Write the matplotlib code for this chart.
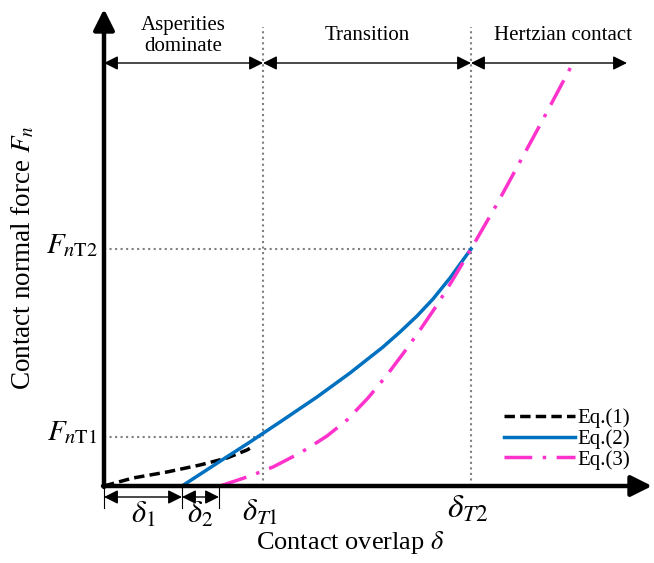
import numpy as np
import matplotlib.pyplot as plt

plt.rcParams['font.family'] = 'Liberation Serif'
plt.rcParams['mathtext.fontset'] = 'stix'

# characteristic overlaps / forces (schematic units)
d1 = 78
d2 = 115
dT1 = 159
dT2 = 367
F_T1 = 49
F_T2 = 237

# Eq.(1) asperity model
eq1_x = [0, 29, 63, 96, 123, 143, 150]
eq1_y = [0, 8, 14, 21, 28, 36, 40]
# Eq.(2) transition
eq2_x = [78, 118, 146, 179, 213, 246, 279, 296, 313, 329, 346, 359, 367]
eq2_y = [0, 26, 44, 66, 89, 113, 139, 154, 170, 187, 208, 226, 237]
# Eq.(3) hertz
eq3_x = [116, 146, 169, 196, 209, 223, 243, 264, 283, 301, 316, 333, 348, 367, 393, 436, 469]
eq3_y = [0, 10, 19, 33, 41, 50, 66, 88, 111, 135, 156, 181, 205, 237, 282, 361, 423]

regions = ['Asperities\ndominate', 'Transition', 'Hertzian contact']
region_edges = [0, dT1, dT2, 523]

fig = plt.figure(figsize=(6.54, 5.63), dpi=100)
ax = fig.add_axes([0, 0, 1, 1])
ax.set_xlim(-104, 550)
ax.set_ylim(-77, 486)
ax.axis('off')

# dotted guide lines
gcol = '#7f7f7f'
for xv in [dT1, dT2]:
    ax.plot([xv, xv], [0, 459], ls=':', color=gcol, lw=1.5)
ax.plot([0, dT1], [F_T1, F_T1], ls=':', color=gcol, lw=1.5)
ax.plot([0, dT2], [F_T2, F_T2], ls=':', color=gcol, lw=1.5)

# curves
ax.plot(eq1_x, eq1_y, color='black', lw=2.5, dashes=(3, 1.5), label='Eq.(1)')
ax.plot(eq2_x, eq2_y, color='#0070C0', lw=2.5, label='Eq.(2)')
ax.plot(eq3_x, eq3_y, color='#FF33CC', lw=2.5, dashes=(8, 3, 1, 3), label='Eq.(3)')

# axes with arrows
ap = dict(arrowstyle='-|>,head_length=0.7,head_width=0.35', lw=3.2, color='black',
          mutation_scale=18, shrinkA=0, shrinkB=0)
ax.annotate('', xy=(548, 0), xytext=(-1, 0), arrowprops=ap)
ax.annotate('', xy=(0, 477), xytext=(0, -1), arrowprops=ap)

# region arrows on top
rp = dict(arrowstyle='<|-|>,head_length=0.6,head_width=0.3', lw=1, color='black',
          mutation_scale=14, shrinkA=0, shrinkB=0)
for i in range(len(regions)):
    a, b = region_edges[i], region_edges[i + 1]
    ax.annotate('', xy=(b, 423), xytext=(a, 423), arrowprops=rp)
ax.text(dT1 / 2, 450, regions[0], ha='center', va='center', fontsize=15,
        linespacing=1.2)
ax.text((dT1 + dT2) / 2, 451, regions[1], ha='center', va='center', fontsize=15)
ax.text(459, 451, regions[2], ha='center', va='center', fontsize=15)

# delta_1, delta_2 dimension arrows
for xv in [0, d1, d2]:
    ax.plot([xv, xv], [0, -22], color='black', lw=0.8)
ax.annotate('', xy=(d1, -11), xytext=(0, -11), arrowprops=rp)
ax.annotate('', xy=(d2, -11), xytext=(d1, -11), arrowprops=rp)

ax.text(d1 / 2, -29, r'$\delta_1$', ha='center', va='center', fontsize=22)
ax.text((d1 + d2) / 2, -29, r'$\delta_2$', ha='center', va='center', fontsize=22)
ax.text(dT1 - 3, -27, r'$\delta_{T1}$', ha='center', va='center', fontsize=22)
ax.text(dT2 - 3, -23, r'$\delta_{T2}$', ha='center', va='center', fontsize=24)

ax.text(-6, F_T1 + 4, r'$F_{n\mathrm{T1}}$', ha='right', va='center', fontsize=21)
ax.text(-6, F_T2 + 3, r'$F_{n\mathrm{T2}}$', ha='right', va='center', fontsize=21)

ax.text(246, -57, r'Contact overlap $\delta$', ha='center', va='center', fontsize=19)
ax.text(-81, 228, r'Contact normal force $F_n$', ha='center', va='center',
        fontsize=19.5, rotation=90)

ax.legend(loc='upper left', bbox_to_anchor=(0.755, 0.293), frameon=False, fontsize=15,
          handlelength=3.4, handletextpad=0.1, labelspacing=0.05, borderpad=0)

fig.savefig('out.png', dpi=100)
